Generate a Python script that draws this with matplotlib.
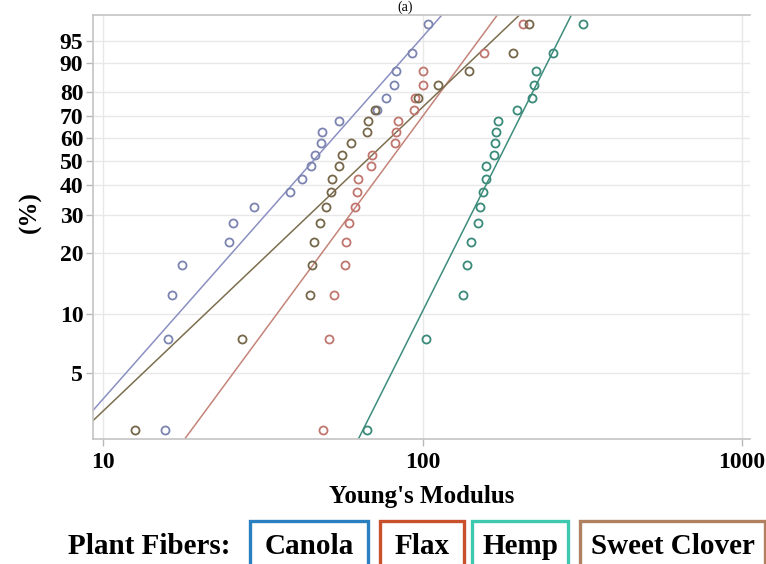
import numpy as np
import matplotlib.pyplot as plt
from matplotlib.patches import Rectangle

# probabilite cumulee (%) de chaque rang, 20 fibres par groupe
pct = [2.5, 7.5, 12.5, 17.5, 22.5, 27.5, 32.5, 37.5, 42.5, 47.5,
       52.5, 57.5, 62.5, 67.5, 72.5, 77.5, 82.5, 87.5, 92.5, 97.5]

canola = [15.6, 16.0, 16.4, 17.6, 24.8, 25.5, 29.7, 38.5, 42.0, 44.8,
          46.1, 48.2, 48.5, 54.8, 72.0, 76.9, 81.4, 82.6, 92.7, 104.0]
flax = [48.8, 51.0, 52.9, 57.2, 57.6, 58.9, 61.5, 62.4, 62.6, 69.0,
        69.5, 82.0, 82.6, 83.8, 94.1, 94.7, 100.0, 100.5, 155.8, 206.3]
hemp = [67.0, 102.6, 133.9, 137.8, 141.8, 149.2, 151.4, 154.7, 158.0, 158.3,
        167.4, 168.6, 169.8, 172.3, 197.6, 220.1, 223.4, 226.6, 256.2, 317.9]
sweet_clover = [12.6, 27.2, 44.5, 45.1, 45.8, 47.8, 49.9, 51.7, 52.1, 54.8,
                56.0, 59.7, 67.0, 67.5, 71.0, 96.8, 111.8, 139.8, 192.0, 215.4]

# parametres Weibull (forme, echelle) des droites ajustees
fibers = ['Canola', 'Flax', 'Hemp', 'Sweet Clover']
shapes = [1.93, 2.31, 3.39, 1.62]
scales = [55.1, 92.7, 192.3, 83.7]

point_colors = ['#7c84b0', '#c0766e', '#3a8a7a', '#76674a']
line_colors = ['#8b90c2', '#c4847a', '#3f8c7c', '#7d6e4e']
box_colors = ['#2a7fc0', '#c8502a', '#3ec8b0', '#b08060']

y_ticks = [5, 10, 20, 30, 40, 50, 60, 70, 80, 90, 95]
x_ticks = [10, 100, 1000]


def weibull_fwd(p):
    p = np.clip(np.asarray(p, dtype=float), 1e-6, 100 - 1e-6)
    return np.log(-np.log(1 - p / 100))


def weibull_inv(w):
    return 100 * (1 - np.exp(-np.exp(w)))


serif = 'Liberation Serif'
W, H = 766, 564
fig = plt.figure(figsize=(W / 100, H / 100), dpi=100)
ax = fig.add_axes([93 / W, 1 - 439 / H, (750 - 93) / W, (439 - 15) / H])

ax.set_xscale('log')
ax.set_yscale('function', functions=(weibull_fwd, weibull_inv))

xs = np.logspace(0.9, 3.1, 400)
groups = [canola, flax, hemp, sweet_clover]
for data, k, lam, pc, lc in zip(groups, shapes, scales, point_colors, line_colors):
    yl = 100 * (1 - np.exp(-(xs / lam) ** k))
    ax.plot(xs, yl, color=lc, lw=1.1, zorder=2)
    ax.plot(data, pct, 'o', mfc='none', mec=pc, mew=1.3, ms=5.8, zorder=3)

ax.set_xlim(9.3, 1059)
ax.set_ylim(2.246, 98.4)

ax.set_xticks(x_ticks)
ax.set_xticklabels([str(t) for t in x_ticks])
ax.xaxis.set_minor_locator(plt.NullLocator())
ax.set_yticks(y_ticks)
ax.set_yticklabels([str(t) for t in y_ticks])
ax.yaxis.set_minor_locator(plt.NullLocator())

ax.grid(True, color='#e8e8e8', lw=1.0, zorder=0)
ax.set_axisbelow(True)
for side in ['left', 'bottom', 'top']:
    ax.spines[side].set_color('#c4c4c4')
    ax.spines[side].set_linewidth(1.2)
ax.spines['right'].set_visible(False)
ax.tick_params(axis='both', colors='#b8b8b8', length=5, width=1)
ax.tick_params(axis='x', pad=4)
ax.tick_params(axis='y', pad=2)
for lab in ax.get_xticklabels() + ax.get_yticklabels():
    lab.set_fontfamily(serif)
    lab.set_fontweight('bold')
    lab.set_fontsize(17)
    lab.set_color('black')

ax.set_xlabel("Young's Modulus", fontfamily=serif, fontweight='bold', fontsize=18, labelpad=9)
fig.text(30 / W, 1 - 212 / H, '(%)', rotation=90, ha='center', va='center',
         fontfamily=serif, fontweight='bold', fontsize=18)
# titre coupe en haut dans l'original, garde ici en petit
fig.text(405 / W, 1 - 1 / H, '(a)', ha='center', va='top',
         fontfamily=serif, fontsize=10)

# legende du bas
fig.text(149 / W, 1 - 546 / H, 'Plant Fibers:', ha='center', va='center',
         fontfamily=serif, fontweight='bold', fontsize=21)
boxes = [(250, 368), (380, 464), (472, 568), (580, 765)]
for name, (x0, x1), bc in zip(fibers, boxes, box_colors):
    rect = Rectangle((x0 / W, 1 - 566 / H), (x1 - x0) / W, (566 - 521) / H,
                     transform=fig.transFigure, fill=False, edgecolor=bc, lw=2.4)
    fig.add_artist(rect)
    fig.text((x0 + x1) / 2 / W, 1 - 546 / H, name, ha='center', va='center',
             fontfamily=serif, fontweight='bold', fontsize=21)

fig.savefig('out.png', dpi=100)
